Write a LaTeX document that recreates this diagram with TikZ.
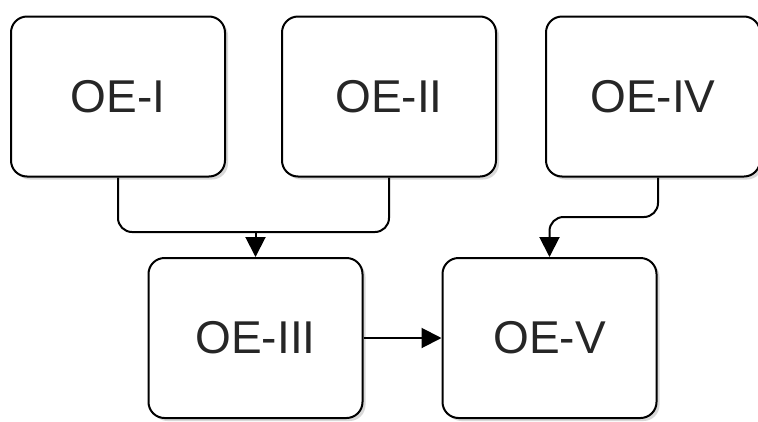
\documentclass[tikz,border=0pt]{standalone}
\usepackage{fontspec}
\setmainfont{Liberation Sans}
\usetikzlibrary{arrows.meta,shadows,calc}
\begin{document}
\begin{tikzpicture}[x=1pt,y=-1pt,
  box/.style={draw=black, line width=2pt, fill=white, rounded corners=16pt,
    minimum width=214pt, minimum height=160pt, inner sep=0pt,
    font=\fontsize{46}{52}\selectfont, text=black!85,
    drop shadow={opacity=0.3, shadow xshift=3pt, shadow yshift=-3pt}},
  conn/.style={draw=black, line width=2pt, rounded corners=14pt},
  arr/.style={conn, -{Triangle[length=20pt,width=20pt]}}]
\useasboundingbox (0,0) rectangle (758,421);
\fill[white] (0,0) rectangle (758,421);
\node[box] (oe1) at (118,96.5) {OE-I};
\node[box] (oe2) at (389,96.5) {OE-II};
\node[box] (oe4) at (653,96.5) {OE-IV};
\node[box] (oe3) at (255.5,338) {OE-III};
\node[box] (oe5) at (549.5,338) {OE-V};
\coordinate (j) at (255.5,232);
\draw[conn] (oe1.south) |- (j) -| (oe2.south);
\draw[arr] (j) -- (oe3.north);
\coordinate (s4) at ($(oe4.south)+(5,0)$);
\coordinate (k) at ($(oe5.north)+(0,-40)$);
\draw[arr] (s4) |- (k) -- (oe5.north);
\draw[arr] (oe3.east) -- (oe5.west);
\end{tikzpicture}
\end{document}
